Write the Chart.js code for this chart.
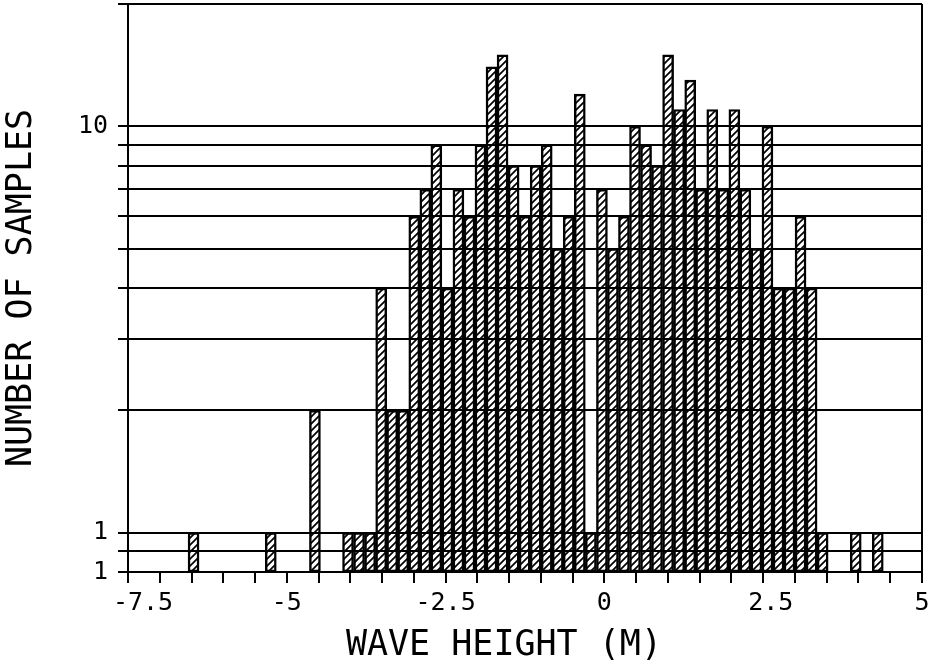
<!DOCTYPE html>
<html>
<head>
<meta charset="utf-8">
<script src="https://cdn.jsdelivr.net/npm/chart.js@4/dist/chart.umd.min.js"></script>
<style>
  html, body { margin: 0; padding: 0; background: #fff; }
  canvas { display: block; }
</style>
</head>
<body>
<canvas id="c" width="929" height="665"></canvas>
<script>
// ---- data ----
const binCenters = [
  -6.468, -6.294, -6.121, -5.947, -5.773, -5.599, -5.426, -5.252, -5.078, -4.904,
  -4.731, -4.557, -4.383, -4.209, -4.036, -3.862, -3.688, -3.514, -3.341, -3.167,
  -2.993, -2.819, -2.646, -2.472, -2.298, -2.124, -1.951, -1.777, -1.603, -1.429,
  -1.256, -1.082, -0.908, -0.734, -0.561, -0.387, -0.213, -0.039,  0.134,  0.308,
   0.482,  0.656,  0.829,  1.003,  1.177,  1.351,  1.524,  1.698,  1.872,  2.046,
   2.219,  2.393,  2.567,  2.741,  2.914,  3.088,  3.262,  3.436,  3.609,  3.783,
   3.957,  4.131,  4.304
];
const sampleCounts = [
  1, null, null, null, null, null, null, 1, null, null,
  null, 2, null, null, 1, 1, 1, 4, 2, 2,
  6, 7, 9, 4, 7, 6, 9, 14, 15, 8,
  6, 8, 9, 5, 6, 12, 1, 7, 5, 6,
  10, 9, 8, 15, 11, 13, 7, 11, 7, 11,
  7, 5, 10, 4, 4, 6, 4, 1, null, null,
  1, null, 1
];
const yTickValues = [0.8, 0.9, 1, 2, 3, 4, 5, 6, 7, 8, 9, 10, 20];
const yTickLabels = ['1', '', '1', '', '', '', '', '', '', '', '', '10', ''];
const xTickLabels = { '-7.5': '  -7.5', '-5': '-5', '-2.5': '-2.5', '0': '0', '2.5': ' 2.5', '5': '5' };
const xTitle = 'WAVE HEIGHT (M)  ';
const yTitle = 'NUMBER OF SAMPLES';

// ---- hatch pattern ----
const canvas = document.getElementById('c');
const ctx = canvas.getContext('2d');
function makeHatch() {
  const s = 7;
  const pc = document.createElement('canvas');
  pc.width = s; pc.height = s;
  const p = pc.getContext('2d');
  p.strokeStyle = '#000';
  p.lineWidth = 1.7;
  p.beginPath();
  p.moveTo(-1, s + 1); p.lineTo(s + 1, -1);
  p.moveTo(-2, 2); p.lineTo(2, -2);
  p.moveTo(s - 2, s + 2); p.lineTo(s + 2, s - 2);
  p.stroke();
  return ctx.createPattern(pc, 'repeat');
}
const hatch = makeHatch();

const points = binCenters.map((x, i) => ({ x: x, y: sampleCounts[i] }));
const MONO = "'DejaVu Sans Mono', 'Liberation Mono', monospace";

const frame = {
  id: 'frame',
  afterDraw(chart) {
    const a = chart.chartArea;
    const c = chart.ctx;
    c.save();
    c.strokeStyle = '#000';
    c.lineWidth = 2;
    c.beginPath();
    c.moveTo(a.right, a.top);
    c.lineTo(a.right, a.bottom);
    c.stroke();
    c.restore();
  }
};

new Chart(ctx, {
  type: 'bar',
  data: {
    datasets: [{
      data: points,
      backgroundColor: hatch,
      borderColor: '#000',
      borderWidth: 1.8,
      borderSkipped: false,
      barPercentage: 1,
      categoryPercentage: 1
    }]
  },
  plugins: [frame],
  options: {
    responsive: false,
    animation: false,
    devicePixelRatio: 1,
    layout: { padding: { top: 4, right: 7, left: 0, bottom: 0 } },
    plugins: { legend: { display: false }, tooltip: { enabled: false } },
    scales: {
      x: {
        type: 'linear',
        min: -7.5,
        max: 5,
        offset: false,
        grid: { drawOnChartArea: false, drawTicks: true, tickLength: 11, color: '#000', lineWidth: 2, offset: false },
        border: { color: '#000', width: 2 },
        ticks: {
          stepSize: 0.5,
          autoSkip: false,
          maxRotation: 0,
          padding: 5,
          color: '#000',
          font: { family: MONO, size: 25 },
          callback: (v) => (xTickLabels[String(v)] !== undefined ? xTickLabels[String(v)] : '')
        },
        title: {
          display: true,
          text: xTitle,
          color: '#000',
          font: { family: MONO, size: 35, lineHeight: 1 },
          padding: { top: 0, bottom: 2 }
        },
        afterFit: (s) => { s.height = 93; s.paddingLeft = 0; s.paddingRight = 0; }
      },
      y: {
        type: 'logarithmic',
        min: 0.8,
        max: 20,
        afterBuildTicks: (s) => { s.ticks = yTickValues.map(v => ({ value: v })); },
        grid: { color: '#000', lineWidth: 2, tickLength: 10, drawTicks: true },
        border: { color: '#000', width: 2 },
        ticks: {
          autoSkip: false,
          padding: 10,
          color: '#000',
          font: { family: MONO, size: 25 },
          callback: (v, i) => yTickLabels[i]
        },
        title: {
          display: true,
          text: yTitle,
          color: '#000',
          font: { family: MONO, size: 35, lineHeight: 1 },
          padding: { top: 4, bottom: 0 }
        },
        afterFit: (s) => { s.width = 128; s.paddingTop = 0; s.paddingBottom = 0; }
      }
    }
  }
});
</script>
</body>
</html>
